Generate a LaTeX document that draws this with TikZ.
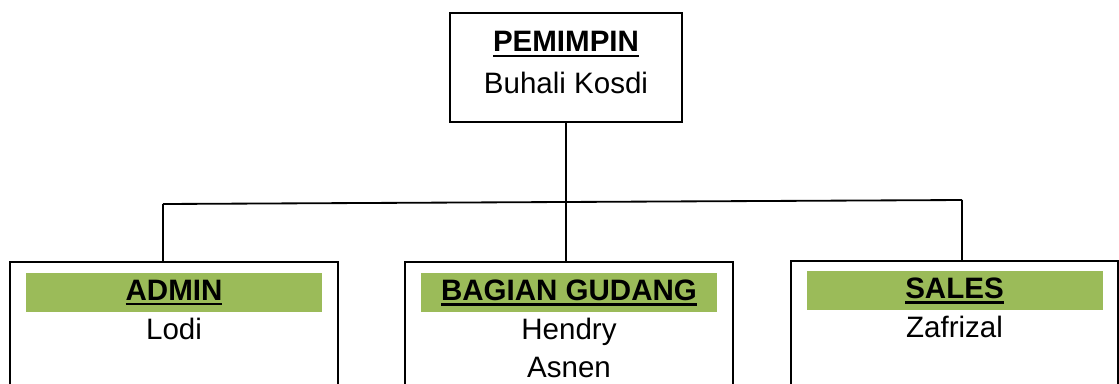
\documentclass[tikz,border=0pt]{standalone}
\usepackage{fontspec}
\setmainfont{Liberation Sans}
\usepackage{xcolor}
\usetikzlibrary{positioning}

\definecolor{headgreen}{HTML}{9BBB59}
\newcommand{\thickul}[1]{\leavevmode\setbox0=\hbox{#1}\rlap{\rule[-3.6pt]{\wd0}{1.6pt}}\box0}

\begin{document}
\begin{tikzpicture}[font=\fontsize{21}{27}\selectfont,
    box/.style={rectangle, draw, line width=1.3pt, minimum width=8.2cm, minimum height=4cm, anchor=north},
    head/.style={rectangle, fill=headgreen, minimum width=7.4cm, minimum height=0.975cm, inner sep=0pt, font=\fontsize{21}{27}\selectfont\bfseries},
    staff/.style={inner sep=0pt, align=center},
    link/.style={line width=1.3pt}]

    \useasboundingbox (0,0) rectangle (27.975,-9.575);
    \clip (0,0) rectangle (27.975,-9.575);

    % Pemimpin
    \node[rectangle, draw, line width=1.3pt, minimum width=5.8cm, minimum height=2.725cm, align=center, text depth=7pt] (pemimpin) at (14.15,-1.69) {\thickul{\textbf{PEMIMPIN}}\\[3pt]Buhali Kosdi};

    % Admin
    \node[box] (admin) at (4.35,-6.525) {};
    \node[head, below=0.3cm of admin.north] (adminhead) {\thickul{ADMIN}};
    \node[staff, below=4pt of adminhead] (lodi) {Lodi};

    % Bagian Gudang
    \node[box] (gudang) at (14.225,-6.525) {};
    \node[head, below=0.3cm of gudang.north] (gudanghead) {\thickul{BAGIAN GUDANG}};
    \node[staff, below=4pt of gudanghead] (gudangstaff) {Hendry\\Asnen};

    % Sales
    \node[box, minimum width=8.175cm] (sales) at (23.8625,-6.5) {};
    \node[head, below=0.275cm of sales.north] (saleshead) {\thickul{SALES}};
    \node[staff, below=4pt of saleshead] (zafrizal) {Zafrizal};

    % Lines
    \coordinate (barleft) at (4.075,-5.1);
    \coordinate (barright) at (24.05,-5.0);
    \draw[link] (barleft) -- (barright);
    \draw[link] (pemimpin) -- (pemimpin |- gudang.north);
    \draw[link] (barleft) -- (barleft |- admin.north);
    \draw[link] (barright) -- (barright |- sales.north);

\end{tikzpicture}
\end{document}
